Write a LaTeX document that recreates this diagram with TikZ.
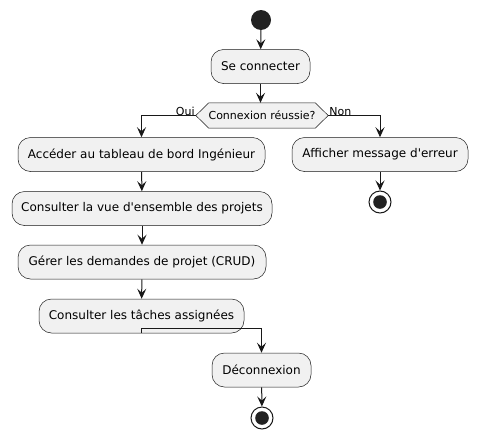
\documentclass[tikz,border=0pt]{standalone}
\usepackage{fontspec}
\setmainfont{DejaVu Sans}[Ligatures=TeXOff]
\usetikzlibrary{arrows.meta}
\definecolor{boxfill}{HTML}{F1F1F1}
\definecolor{ink}{HTML}{181818}
\definecolor{dot}{HTML}{222222}
\tikzset{
  x=1pt,y=-1pt,
  act/.style={draw=ink,line width=0.5pt,fill=boxfill,rounded corners=12.5pt,minimum height=34pt,inner sep=0pt,font=\fontsize{12}{14}\selectfont,text=black},
  flow/.style={draw=ink,line width=1pt,-{Stealth[length=10pt,width=9pt,inset=4pt]}},
  lbl/.style={font=\fontsize{11}{13}\selectfont,inner sep=1pt,text=black},
  startdot/.style={circle,fill=dot,minimum size=20pt,inner sep=0pt},
  enddot/.style={circle,draw=ink,line width=1pt,fill=white,minimum size=22pt,inner sep=0pt},
}
\begin{document}
\begin{tikzpicture}
\useasboundingbox (0,0) rectangle (478,439);
\node[startdot] (start) at (261,20) {};
\node[act,minimum width=99pt] (conn) at (260.5,66.5) {Se connecter};
\node[inner sep=0pt,minimum width=132pt,minimum height=25pt] (dec) at (262,115.5) {};
\draw[ink,line width=0.5pt,fill=boxfill] (dec.west) -- ([xshift=13pt]dec.north west) -- ([xshift=-13pt]dec.north east) -- (dec.east) -- ([xshift=-13pt]dec.south east) -- ([xshift=13pt]dec.south west) -- cycle;
\node[font=\fontsize{11}{13}\selectfont,inner sep=0pt] (dectext) at (dec.center) {Connexion réussie?};
\node[act,minimum width=247pt] (acc) at (141.5,154.5) {Accéder au tableau de bord Ingénieur};
\node[act,minimum width=260pt] (vue) at (142,208.5) {Consulter la vue d'ensemble des projets};
\node[act,minimum width=248pt] (ger) at (142,262) {Gérer les demandes de projet (CRUD)};
\node[act,minimum width=205pt] (tac) at (141.5,316) {Consulter les tâches assignées};
\node[act,minimum width=99pt] (deco) at (261.5,370) {Déconnexion};
\node[enddot] (end1) at (262,418) {};
\fill[dot] (end1.center) circle (6.8pt);
\node[act,minimum width=176pt] (err) at (380,154.5) {Afficher message d'erreur};
\node[enddot] (end2) at (380,202) {};
\fill[dot] (end2.center) circle (6.8pt);
\node[lbl,anchor=south east] (oui) at ([yshift=-1pt]dec.west) {Oui};
\node[lbl,anchor=south west] (non) at ([yshift=-1pt]dec.east) {Non};
\draw[flow] (start) -- (conn);
\draw[flow] (conn) -- (dec.north -| conn);
\draw[flow] (dec.west) -| (acc.north);
\draw[flow] (dec.east) -| (err.north);
\draw[flow] (acc) -- (vue);
\draw[flow] (vue) -- (ger);
\draw[flow] (ger) -- (tac);
\coordinate (j) at ([yshift=5pt]tac.south);
\draw[flow] (tac.south) -- (j) -| (deco.north);
\draw[flow] (deco) -- (end1);
\draw[flow] (err) -- (end2);
\end{tikzpicture}
\end{document}
